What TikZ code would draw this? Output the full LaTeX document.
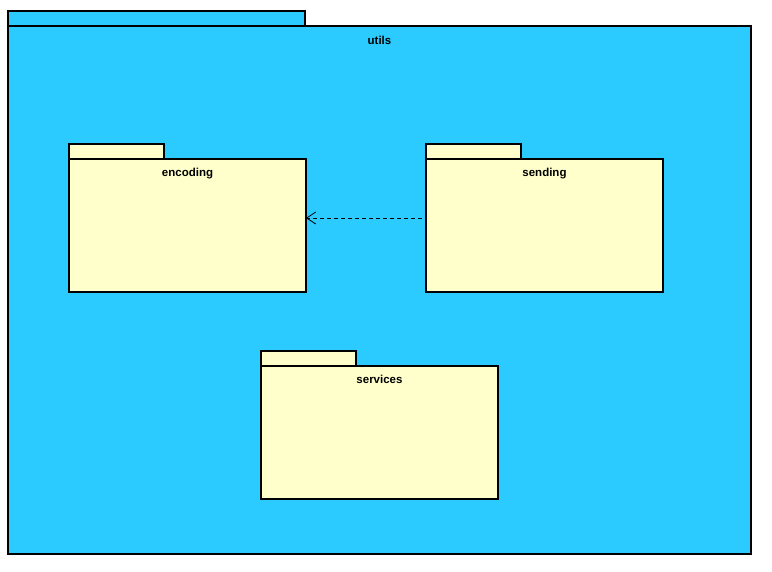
\documentclass[tikz,border=0pt]{standalone}
\usepackage{fontspec}
\setmainfont{Liberation Sans}
\usetikzlibrary{arrows.meta}
\definecolor{utilsblue}{RGB}{43,203,255}
\definecolor{pkgyellow}{RGB}{255,255,204}
\def\tw{95}
\def\th{15}
% #1 name, #2 x, #3 y (top left of body), #4 width, #5 height, #6 label
\def\package#1#2#3#4#5#6{
    \node[body, minimum width=#4pt, minimum height=#5pt] (#1) at (#2, #3) {};
    \node[tab, minimum width=\tw pt, minimum height=\th pt] (#1-tab) at (#1.north west) {};
    \node[label text] (#1-label) at ([yshift=-17.5pt]#1.north) {#6};
}
\begin{document}
\begin{tikzpicture}[x=1pt, y=-1pt,
    body/.style={draw=black, fill=pkgyellow, line width=1.6pt, anchor=north west, inner sep=0pt, outer sep=0pt},
    tab/.style={draw=black, fill=pkgyellow, line width=1.6pt, anchor=south west, inner sep=0pt, outer sep=0pt},
    label text/.style={font=\fontsize{11.5}{13}\selectfont\bfseries, inner sep=0pt, anchor=base},
    ]
    \useasboundingbox (0, 0) rectangle (772, 571);
    % outer package
    \node[body, fill=utilsblue, line width=2pt, minimum width=743pt, minimum height=528pt] (utils) at (8, 26) {};
    \node[tab, fill=utilsblue, line width=2pt, minimum width=297pt, minimum height=15pt] (utils-tab) at (utils.north west) {};
    \node[label text] (utils-label) at ([yshift=-18pt]utils.north) {utils};
    % inner packages
    \package{encoding}{69}{159}{237}{133}{encoding}
    \package{sending}{426}{159}{237}{133}{sending}
    \package{services}{261}{366}{237}{133}{services}
    % dependency
    \draw[dash pattern=on 4pt off 3pt, line width=0.8pt, -{Straight Barb[length=9pt, width=12pt]}]
        ([yshift=7.5pt, xshift=-4pt]sending.west) -- ([yshift=7.5pt]encoding.east);
\end{tikzpicture}
\end{document}
